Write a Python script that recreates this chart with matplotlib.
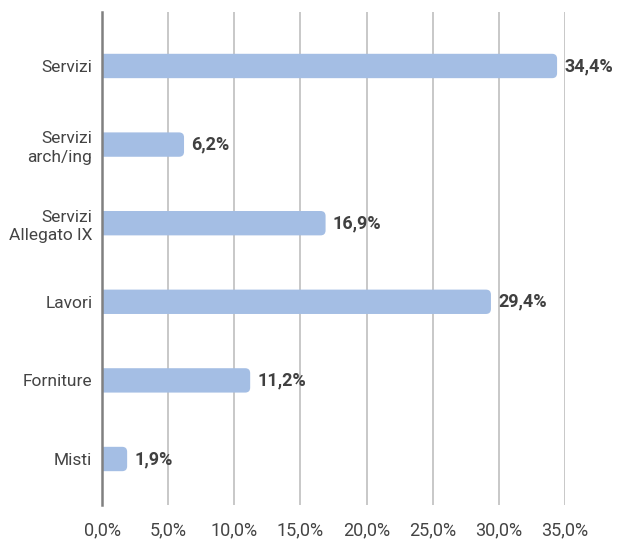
import matplotlib.pyplot as plt
from matplotlib.patches import FancyBboxPatch

# data
categories = ["Servizi", "Servizi\narch/ing", "Servizi\nAllegato IX", "Lavori", "Forniture", "Misti"]
values = [34.4, 6.2, 16.9, 29.4, 11.2, 1.9]
xticks = [0, 5, 10, 15, 20, 25, 30, 35]
xtick_labels = ["0,0%", "5,0%", "10,0%", "15,0%", "20,0%", "25,0%", "30,0%", "35,0%"]

plt.rcParams['font.family'] = ['Roboto', 'DejaVu Sans']

fig = plt.figure(figsize=(6.19, 5.42), dpi=100)
ax = fig.add_axes([0.1648, 0.0683, 0.748, 0.9096])

bar_h = 0.31
bar_color = "#a4bee4"
ypos = list(range(len(categories)))

ax.set_xlim(0, 35)
ax.set_ylim(5.585, -0.687)

# bars with rounded right end (left corners pushed outside the clip area)
fig.canvas.draw()
bb = ax.get_window_extent()
px_x = (35 - 0) / bb.width
px_y = (5.585 + 0.687) / bb.height
for y, v in zip(ypos, values):
    r = 5 * px_x
    p = FancyBboxPatch((-1, y - bar_h / 2), v + 1, bar_h,
                       boxstyle="round,pad=0,rounding_size=%f" % r,
                       mutation_aspect=px_y / px_x,
                       facecolor=bar_color, edgecolor="none", zorder=3)
    ax.add_patch(p)
    lab = ("%.1f%%" % v).replace(".", ",")
    ax.annotate(lab, (v, y), xytext=(5, 0), textcoords="offset points",
                va="center", ha="left", fontsize=13, fontweight="bold",
                color="#404040", annotation_clip=False, zorder=4)

ax.set_yticks(ypos)
ax.set_yticklabels(categories, fontsize=12.5, color="#444444", linespacing=1.3)
ax.set_xticks(xticks)
ax.set_xticklabels(xtick_labels, fontsize=13, color="#444444")
ax.tick_params(length=0, pad=7)
ax.tick_params(axis="x", pad=12)

ax.grid(axis="x", color="#c4c4c4", linewidth=1.3, zorder=0)
for s in ["top", "right", "bottom"]:
    ax.spines[s].set_visible(False)
ax.spines["left"].set_color("#808080")
ax.spines["left"].set_linewidth(1.8)
ax.spines["left"].set_zorder(5)

fig.savefig("out.png", dpi=100)
